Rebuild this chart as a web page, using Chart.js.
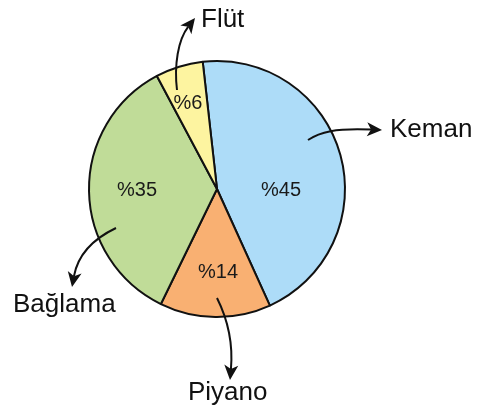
<!DOCTYPE html>
<html>
<head>
<meta charset="utf-8">
<script src="https://cdn.jsdelivr.net/npm/chart.js@4"></script>
<style>
  html, body { margin: 0; padding: 0; background: #ffffff; }
  #wrap { width: 485px; height: 407px; position: relative; }
</style>
</head>
<body>
<div id="wrap"><canvas id="c"></canvas></div>
<script>
const categories = ['Keman', 'Piyano', 'Bağlama', 'Flüt'];
const values = [45, 14, 35, 6];
const percentLabels = ['%45', '%14', '%35', '%6'];
const colors = ['#addcf8', '#f9b072', '#c0dc98', '#fdf4a0'];

// label placement (style): offsets of inner % labels from pie centre, and outer label / arrow geometry
const innerOffsets = [[64, 1], [1, 83], [-80, 1], [-29, -86]];
const outerLabels = [
  { text: 'Keman',   x: 390, y: 137, arrow: [[308,140],[320,132],[335,128],[382,130]] },
  { text: 'Piyano',  x: 188, y: 400, arrow: [[217,298],[228,320],[233,345],[230,380]] },
  { text: 'Bağlama', x: 13,  y: 312, arrow: [[116,228],[95,238],[78,254],[72,287]] },
  { text: 'Flüt',    x: 201, y: 27,  arrow: [[177,90],[174,65],[178,40],[195,18]] }
];

const labelPlugin = {
  id: 'labels',
  afterDraw(chart) {
    const ctx = chart.ctx;
    const meta = chart.getDatasetMeta(0);
    const arc0 = meta.data[0];
    const cx = arc0.x, cy = arc0.y;
    ctx.save();
    ctx.fillStyle = '#1a1a1a';
    ctx.font = '20px "Liberation Sans", Arial, sans-serif';
    ctx.textAlign = 'center';
    ctx.textBaseline = 'middle';
    meta.data.forEach((arc, i) => {
      ctx.fillText(percentLabels[i], cx + innerOffsets[i][0], cy + innerOffsets[i][1]);
    });
    // arrows
    ctx.strokeStyle = '#111';
    ctx.fillStyle = '#111';
    ctx.lineWidth = 2;
    outerLabels.forEach(l => {
      const [s, c1, c2, t] = l.arrow;
      const dx = t[0] - c2[0], dy = t[1] - c2[1];
      const len = Math.hypot(dx, dy);
      const ux = dx / len, uy = dy / len;
      const L = 15, W = 7, N = 4;
      const bx = t[0] - ux * (L - N), by = t[1] - uy * (L - N);
      ctx.beginPath();
      ctx.moveTo(s[0], s[1]);
      ctx.bezierCurveTo(c1[0], c1[1], c2[0], c2[1], bx, by);
      ctx.stroke();
      const px = -uy, py = ux;
      const baseX = t[0] - ux * L, baseY = t[1] - uy * L;
      ctx.beginPath();
      ctx.moveTo(t[0], t[1]);
      ctx.lineTo(baseX + px * W, baseY + py * W);
      ctx.lineTo(t[0] - ux * (L - N), t[1] - uy * (L - N));
      ctx.lineTo(baseX - px * W, baseY - py * W);
      ctx.closePath();
      ctx.fill();
    });
    ctx.fillStyle = '#111';
    ctx.font = '26px "Liberation Sans", Arial, sans-serif';
    ctx.textAlign = 'left';
    ctx.textBaseline = 'alphabetic';
    outerLabels.forEach(l => ctx.fillText(l.text, l.x, l.y));
    ctx.restore();
  }
};

new Chart(document.getElementById('c'), {
  type: 'pie',
  data: {
    labels: categories,
    datasets: [{
      data: values,
      backgroundColor: colors,
      borderColor: '#111',
      borderWidth: 2
    }]
  },
  options: {
    responsive: true,
    maintainAspectRatio: false,
    animation: false,
    rotation: -6.4,
    layout: { padding: { left: 88, right: 139, top: 60, bottom: 89 } },
    plugins: {
      legend: { display: false },
      tooltip: { enabled: false }
    }
  },
  plugins: [labelPlugin]
});
</script>
</body>
</html>
